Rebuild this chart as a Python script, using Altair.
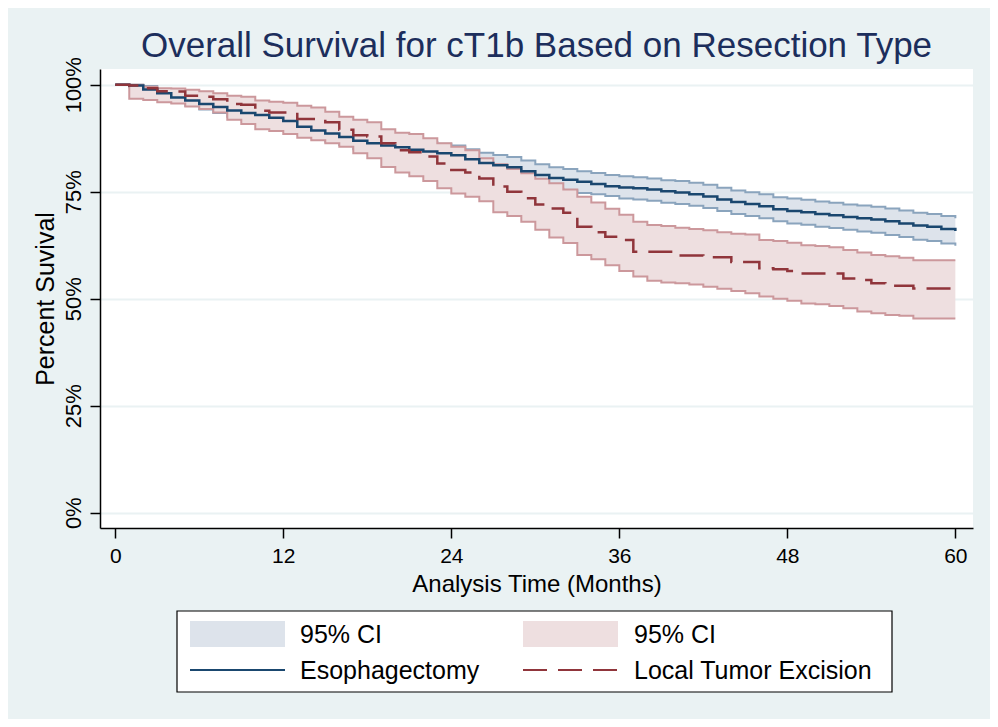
import altair as alt
import pandas as pd

# ---------------- data ----------------
months = list(range(61))

esoph_surv = [100, 99.8, 98.9, 98.0, 97.0, 96.3, 95.5, 94.8, 94.0, 93.4, 92.9, 92.3, 91.5, 90.2, 89.3,
              88.6, 87.8, 86.9, 86.3, 85.8, 85.4, 84.8, 84.4, 84.0, 83.5, 82.6, 81.7, 81.2, 80.7, 79.8,
              78.9, 78.2, 77.8, 77.3, 76.8, 76.3, 76.0, 75.8, 75.5, 75.1, 74.8, 74.4, 73.9, 73.2, 72.6,
              72.1, 71.6, 70.9, 70.5, 70.2, 69.8, 69.5, 69.1, 68.8, 68.5, 68.1, 67.6, 67.1, 66.8, 66.3, 65.8]
esoph_upper = [100, 100, 99.7, 99.0, 98.1, 97.5, 96.8, 96.2, 95.5, 94.9, 94.5, 94.0, 93.2, 92.0, 91.1,
               90.5, 89.7, 88.9, 88.3, 87.9, 87.5, 86.9, 86.6, 86.2, 85.8, 84.9, 84.1, 83.6, 83.1, 82.3,
               81.4, 80.7, 80.3, 79.8, 79.4, 78.9, 78.6, 78.4, 78.1, 77.7, 77.5, 77.1, 76.6, 75.9, 75.3,
               74.9, 74.4, 73.7, 73.4, 73.1, 72.7, 72.4, 72.0, 71.8, 71.5, 71.1, 70.6, 70.1, 69.8, 69.3, 68.8]
esoph_lower = [100, 99.4, 98.1, 97.0, 95.9, 95.1, 94.2, 93.4, 92.5, 91.9, 91.3, 90.6, 89.8, 88.4, 87.5,
               86.7, 85.9, 84.9, 84.3, 83.7, 83.3, 82.7, 82.2, 81.8, 81.2, 80.3, 79.3, 78.8, 78.3, 77.3,
               76.4, 75.7, 75.3, 74.7, 74.4, 74.0, 73.4, 73.2, 72.9, 72.4, 72.1, 71.7, 71.2, 70.5, 69.8,
               69.3, 68.8, 68.1, 67.6, 67.3, 66.8, 66.5, 66.1, 65.7, 65.4, 64.9, 64.4, 63.8, 63.5, 62.9, 62.4]

lte_surv = [100, 99.8, 99.2, 98.5, 98.4, 97.4, 97.2, 96.6, 95.5, 95.3, 93.9, 93.5, 93.5, 92.0, 92.0,
            91.2, 89.5, 88.2, 87.9, 86.3, 84.7, 84.2, 83.2, 81.6, 80.1, 79.5, 78.1, 76.2, 75.0, 73.5,
            72.0, 71.1, 70.1, 66.8, 65.5, 64.5, 63.7, 61.0, 61.0, 61.0, 60.1, 60.1, 59.7, 59.7, 58.6,
            58.6, 57.1, 56.9, 56.5, 55.9, 55.9, 55.9, 54.7, 54.4, 53.6, 53.0, 53.0, 52.4, 52.4, 52.4, 52.4]
lte_upper = [100, 100, 99.5, 99.2, 99.1, 98.8, 98.5, 98.0, 97.4, 97.2, 96.3, 96.0, 95.8, 95.1, 94.7,
             93.7, 92.5, 91.8, 91.2, 89.6, 88.8, 88.5, 87.5, 86.3, 85.5, 84.7, 82.8, 81.4, 80.3, 79.3,
             78.0, 77.0, 75.5, 73.8, 72.5, 71.0, 69.6, 68.0, 67.2, 67.0, 66.6, 66.3, 66.0, 65.5, 65.2,
             65.0, 63.7, 63.5, 63.1, 62.5, 62.3, 62.0, 61.4, 60.8, 60.2, 59.9, 59.6, 59.0, 59.0, 59.0, 59.0]
lte_lower = [100, 96.7, 96.4, 95.9, 95.6, 94.9, 94.3, 93.5, 91.8, 90.8, 89.6, 89.2, 88.5, 87.6, 87.0,
             86.3, 85.5, 84.0, 82.8, 80.8, 79.5, 78.6, 77.5, 75.8, 74.6, 73.8, 72.8, 70.2, 69.3, 68.0,
             66.1, 64.3, 63.0, 60.2, 59.2, 57.8, 56.5, 55.2, 54.2, 53.8, 53.6, 53.3, 52.8, 52.3, 51.8,
             51.3, 50.5, 50.0, 49.5, 48.9, 48.7, 48.3, 47.8, 47.0, 46.6, 46.2, 46.0, 45.4, 45.4, 45.4, 45.4]

x_ticks = [0, 12, 24, 36, 48, 60]
y_ticks = [0, 25, 50, 75, 100]

title_text = "Overall Survival for cT1b Based on Resection Type"
x_title = "Analysis Time (Months)"
y_title = "Percent Suvival"
legend_ci = "95% CI"
legend_esoph = "Esophagectomy"
legend_lte = "Local Tumor Excision"

# ---------------- styling ----------------
FONT = "Liberation Sans"
BG = "#EAF2F3"
BLUE = "#1a476f"
RED = "#90353b"
BLUE_FILL = "#dde3eb"
RED_FILL = "#eedfe0"
BLUE_EDGE = "#8aa4bd"
RED_EDGE = "#cc989c"
TITLE_COLOR = "#1c2e5c"
DASH = [24, 11]

W, H = 873, 459

df_e = pd.DataFrame({"month": months, "surv": esoph_surv, "hi": esoph_upper, "lo": esoph_lower})
df_l = pd.DataFrame({"month": months, "surv": lte_surv, "hi": lte_upper, "lo": lte_lower})

x_scale = alt.Scale(domain=[-1.09, 61.26], nice=False, zero=False)
y_scale = alt.Scale(domain=[-3.57, 103.67], nice=False, zero=False)

x_axis = alt.Axis(values=x_ticks, title=x_title, grid=False,
                  domainColor="black", domainWidth=1.5, tickColor="black", tickWidth=1.5, tickSize=10,
                  labelFont=FONT, labelFontSize=21, labelColor="black", labelBaseline="alphabetic",
                  labelPadding=24, labelFlush=False, labelOverlap=False,
                  titleFont=FONT, titleFontSize=24, titleFontWeight="normal", titleColor="black",
                  titleBaseline="alphabetic", titleAlign="center", titleX=W / 2, titleY=63)
y_axis = alt.Axis(values=y_ticks, title=y_title, labelExpr="datum.value + '%'",
                  grid=True, gridColor=BG, gridWidth=2,
                  domainColor="black", domainWidth=1.5, tickColor="black", tickWidth=1.5, tickSize=10,
                  labelFont=FONT, labelFontSize=22, labelColor="black", labelAngle=270,
                  labelAlign="center", labelBaseline="alphabetic", labelPadding=10,
                  labelFlush=False, labelOverlap=False,
                  titleFont=FONT, titleFontSize=25, titleFontWeight="normal", titleColor="black",
                  titleAngle=270, titleAlign="center", titleBaseline="alphabetic",
                  titleX=-47, titleY=H / 2)

X = alt.X("month:Q", scale=x_scale, axis=x_axis)


def band(df, fill):
    return alt.Chart(df).mark_area(interpolate="step-after", color=fill, opacity=1).encode(
        x=X, y=alt.Y("hi:Q", scale=y_scale, axis=y_axis), y2="lo:Q")


def edge(df, field, color):
    return alt.Chart(df).mark_line(interpolate="step-after", color=color, strokeWidth=2).encode(
        x=X, y=alt.Y(f"{field}:Q", scale=y_scale, axis=y_axis))


blue_band = band(df_e, BLUE_FILL)
blue_hi = edge(df_e, "hi", BLUE_EDGE)
blue_lo = edge(df_e, "lo", BLUE_EDGE)
red_band = band(df_l, RED_FILL)
red_hi = edge(df_l, "hi", RED_EDGE)
red_lo = edge(df_l, "lo", RED_EDGE)

blue_line = alt.Chart(df_e).mark_line(interpolate="step-after", color=BLUE, strokeWidth=2.5).encode(
    x=X, y=alt.Y("surv:Q", scale=y_scale, axis=y_axis))
red_line = alt.Chart(df_l).mark_line(interpolate="step-after", color=RED, strokeWidth=2.5,
                                     strokeDash=DASH).encode(
    x=X, y=alt.Y("surv:Q", scale=y_scale, axis=y_axis))

# ---------------- title ----------------
title = alt.Chart(pd.DataFrame({"t": [title_text]})).mark_text(
    font=FONT, fontSize=35, color=TITLE_COLOR, align="center", baseline="alphabetic").encode(
    x=alt.value(W / 2), y=alt.value(-12.3), text="t:N")

# ---------------- legend (drawn below the plot) ----------------
one = pd.DataFrame({"k": [0]})
leg_box = alt.Chart(one).mark_rect(fill="white", stroke="black", strokeWidth=1.2).encode(
    x=alt.value(77), x2=alt.value(792), y=alt.value(542), y2=alt.value(623))
sw_blue = alt.Chart(one).mark_rect(fill=BLUE_FILL).encode(
    x=alt.value(90), x2=alt.value(185), y=alt.value(552), y2=alt.value(578))
sw_red = alt.Chart(one).mark_rect(fill=RED_FILL).encode(
    x=alt.value(423), x2=alt.value(518), y=alt.value(552), y2=alt.value(578))
ln_blue = alt.Chart(one).mark_rule(color=BLUE, strokeWidth=2.2).encode(
    x=alt.value(90), x2=alt.value(185), y=alt.value(601))
ln_red = alt.Chart(one).mark_rule(color=RED, strokeWidth=2.2, strokeDash=DASH).encode(
    x=alt.value(423), x2=alt.value(518), y=alt.value(601))


def leg_text(label, x, y):
    return alt.Chart(pd.DataFrame({"t": [label]})).mark_text(
        font=FONT, fontSize=25, color="black", align="left", baseline="middle").encode(
        x=alt.value(x), y=alt.value(y), text="t:N")


legend_layers = [leg_box, sw_blue, sw_red, ln_blue, ln_red,
                 leg_text(legend_ci, 200, 566), leg_text(legend_ci, 534, 566),
                 leg_text(legend_esoph, 200, 602), leg_text(legend_lte, 534, 602)]

chart = alt.layer(
    blue_band, blue_hi, blue_lo, red_band, red_hi, red_lo, blue_line, red_line,
    title, *legend_layers
).properties(
    width=W, height=H,
    background=BG,
    autosize=alt.AutoSizeParams(type="none"),
    padding={"left": 92, "top": 61, "right": 17, "bottom": 191},
).configure_view(
    strokeWidth=0, fill="white"
)

chart.save("out.html", embed_options={"renderer": "svg", "actions": False})
